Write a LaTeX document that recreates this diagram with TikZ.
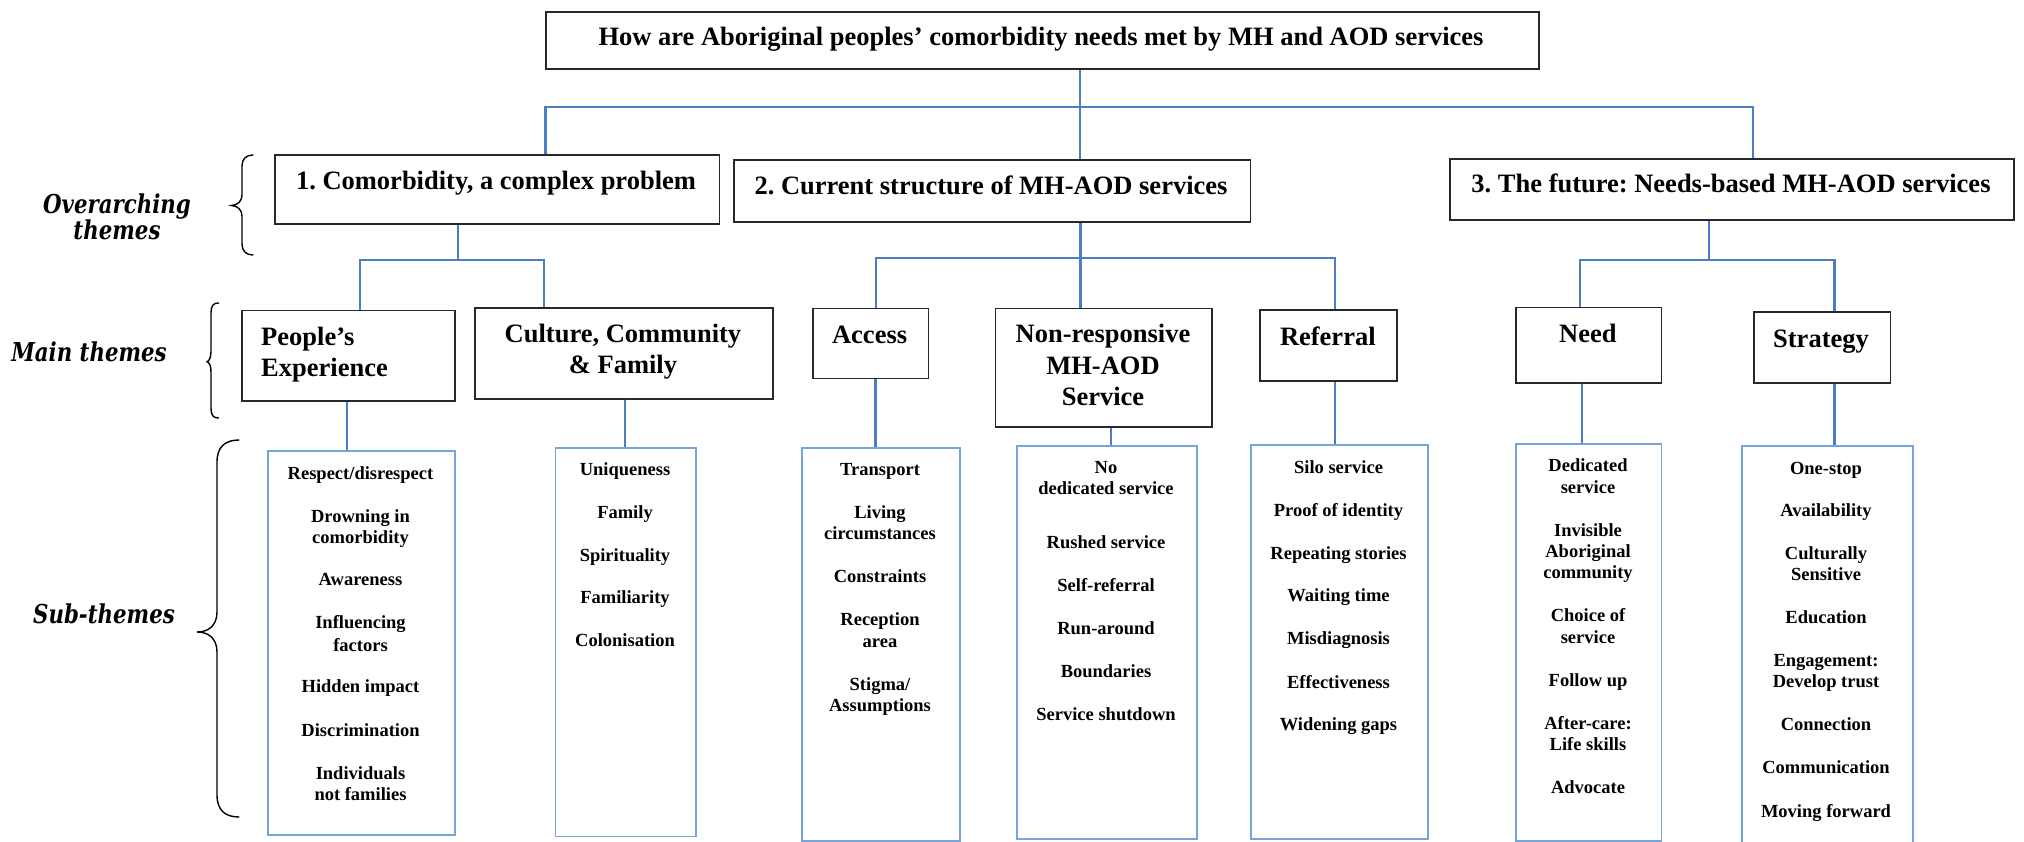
\documentclass[tikz,border=0pt]{standalone}
\usepackage{fontspec}
\setmainfont{Liberation Serif}
\newfontfamily\sidefont{DejaVu Serif}[FakeStretch=0.82]
\frenchspacing

\definecolor{linkblue}{RGB}{74,126,193}
\definecolor{subblue}{RGB}{120,164,222}
\definecolor{boxgray}{RGB}{40,40,40}

\tikzset{
  hbox/.style={draw=boxgray, line width=1.6pt, inner sep=0pt, anchor=north west},
  sbox/.style={draw=subblue, line width=1.8pt, inner sep=0pt, anchor=north west},
  conn/.style={draw=linkblue, line width=2.2pt},
  headtxt/.style={inner sep=0pt, anchor=base, font=\fontsize{26.5}{30.5}\selectfont\bfseries},
  subtxt/.style={inner sep=0pt, anchor=base, font=\fontsize{18.5}{21.3}\selectfont\bfseries},
  sidetxt/.style={inner sep=0pt, anchor=base, font=\sidefont\fontsize{26}{27}\selectfont\bfseries\itshape},
  bracepath/.style={draw=black, line width=1.4pt, line cap=round},
}

% box from its top-left to its bottom-right corner: style, name, x1, y1, x2, y2
\newcommand{\panel}[6]{%
  \node[#1, minimum width={(#5)-(#3)}, minimum height={(#6)-(#4)}] (#2) at (#3,#4) {};}
% one text line per entry, entry = text/centre-y
\newcommand{\sublist}[3]{%
  \foreach \t/\y [count=\i] in {#3} \node[subtxt] (#1-\i) at (#2,{\y+6.5}) {\t};}

\begin{document}
\begin{tikzpicture}[x=1pt, y=-1pt]
\useasboundingbox (0,0) rectangle (2024,842);
\clip (0,0) rectangle (2024,842);

% ---------- question ----------
\panel{hbox}{title}{545}{11}{1538}{68}
\node[headtxt] (titleT) at (1041,46) {How are Aboriginal peoples’ comorbidity needs met by MH and AOD services};

% ---------- overarching themes ----------
\panel{hbox}{ov1}{274}{154}{718.5}{223}
\panel{hbox}{ov2}{733}{159}{1249.6}{221}
\panel{hbox}{ov3}{1449}{158}{2013}{219}
\node[headtxt] (ov1T) at (496,190) {1. Comorbidity, a complex problem};
\node[headtxt] (ov2T) at (991,195) {2. Current structure of MH-AOD services};
\node[headtxt] (ov3T) at (1731,193) {3. The future: Needs-based MH-AOD services};

% ---------- main themes ----------
\panel{hbox}{pe}{241}{309.7}{454}{400}
\panel{hbox}{cu}{474}{307}{772}{398}
\panel{hbox}{ac}{812}{307.6}{927.7}{377.8}
\panel{hbox}{nr}{994.6}{307.6}{1211}{426}
\panel{hbox}{rf}{1259}{309}{1396}{380}
\panel{hbox}{nd}{1515.4}{306.9}{1660.6}{382}
\panel{hbox}{st}{1753}{311}{1889.5}{382}

\node[headtxt, anchor=base west] (peT1) at (261,345.6) {People’s};
\node[headtxt, anchor=base west] (peT2) at (261,376) {Experience};
\node[headtxt] (cuT1) at (623,342.7) {Culture, Community};
\node[headtxt] (cuT2) at (623,373) {\& Family};
\node[headtxt] (acT) at (869.6,343.8) {Access};
\node[headtxt] (nrT1) at (1103,342.7) {Non-responsive};
\node[headtxt] (nrT2) at (1103,374) {MH-AOD};
\node[headtxt] (nrT3) at (1103,405.4) {Service};
\node[headtxt] (rfT) at (1327.8,345) {Referral};
\node[headtxt] (ndT) at (1587.8,342.7) {Need};
\node[headtxt] (stT) at (1821,347.4) {Strategy};

% ---------- sub-themes ----------
\panel{sbox}{peS}{267}{450}{454}{833.7}
\panel{sbox}{cuS}{554.5}{446.7}{695}{835.5}
\panel{sbox}{acS}{801}{446.7}{959}{840}
\panel{sbox}{nrS}{1016}{445}{1196.4}{838.4}
\panel{sbox}{rfS}{1250}{444}{1427}{838}
\panel{sbox}{ndS}{1515.4}{443}{1660.6}{840}
\panel{sbox}{stS}{1741}{445}{1911.7}{848}

\sublist{peL}{360.5}{{Respect/disrespect}/472.5, Drowning in/515.5, comorbidity/536.6,
  Awareness/579.3, Influencing/622.3, factors/644.5, Hidden impact/686,
  Discrimination/730, Individuals/773, not families/794}
\sublist{cuL}{625}{Uniqueness/469, Family/512, Spirituality/555, Familiarity/597, Colonisation/640}
\sublist{acL}{880}{Transport/468.9, Living/512.3, circumstances/533, Constraints/576,
  Reception/619, area/641, {Stigma/}/684.3, Assumptions/705}
\sublist{nrL}{1106}{No/466.7, dedicated service/488.2, Rushed service/542, Self-referral/585,
  Run-around/628, Boundaries/671, Service shutdown/714}
\sublist{rfL}{1338.5}{Silo service/466.7, Proof of identity/509.7, Repeating stories/552.8,
  Waiting time/595, Misdiagnosis/638, Effectiveness/681.8, Widening gaps/723.7}
\sublist{ndL}{1588}{Dedicated/465.3, service/486.8, Invisible/529.8, Aboriginal/551.3,
  community/572, Choice of/615, service/637.3, Follow up/679.6, After-care:/723.3,
  Life skills/744, Advocate/787}
\sublist{stL}{1826}{One-stop/467.5, Availability/509.7, Culturally/553, Sensitive/574,
  Education/617, Engagement:/660, Develop trust/681.4, Connection/724.4,
  Communication/766.7, Moving forward/810.5}

% ---------- connectors ----------
\coordinate (j0) at (1080,107);
\coordinate (b1) at (545.5,107);
\coordinate (b3) at (1753,107);
\draw[conn] (title.south -| j0) -- (ov2.north -| j0);
\draw[conn] (ov1.north -| b1) -- (b1) -- (b3) -- (ov3.north -| b3);

\coordinate (k1) at (457.7,260);
\coordinate (m1) at (359.6,260);
\coordinate (m2) at (543.6,260);
\draw[conn] (ov1.south -| k1) -- (k1);
\draw[conn] (pe.north -| m1) -- (m1) -- (m2) -- (cu.north -| m2);

\coordinate (k2) at (1080.5,258);
\coordinate (m3) at (876,258);
\coordinate (m5) at (1335,258);
\draw[conn] (ov2.south -| k2) -- (nr.north -| k2);
\draw[conn] (ac.north -| m3) -- (m3) -- (m5) -- (rf.north -| m5);

\coordinate (k3) at (1708.6,260);
\coordinate (m6) at (1580,260);
\coordinate (m7) at (1834.5,260);
\draw[conn] (ov3.south -| k3) -- (k3);
\draw[conn] (nd.north -| m6) -- (m6) -- (m7) -- (st.north -| m7);

\coordinate (s1) at (347,0);
\coordinate (s2) at (625,0);
\coordinate (s3) at (875.4,0);
\coordinate (s4) at (1110.7,0);
\coordinate (s5) at (1334.8,0);
\coordinate (s6) at (1582,0);
\coordinate (s7) at (1834.5,0);
\draw[conn] (pe.south -| s1) -- (peS.north -| s1);
\draw[conn] (cu.south -| s2) -- (cuS.north -| s2);
\draw[conn] (ac.south -| s3) -- (acS.north -| s3);
\draw[conn] (nr.south -| s4) -- (nrS.north -| s4);
\draw[conn] (rf.south -| s5) -- (rfS.north -| s5);
\draw[conn] (nd.south -| s6) -- (ndS.north -| s6);
\draw[conn] (st.south -| s7) -- (stS.north -| s7);

% ---------- level labels and braces ----------
\node[sidetxt] (sideO1) at (117,214) {Overarching};
\node[sidetxt] (sideO2) at (117,240) {themes};
\node[sidetxt] (sideM) at (89,361.7) {Main themes};
\node[sidetxt] (sideS) at (104,623.3) {Sub-themes};

\draw[bracepath] (253,155) .. controls (246,155) and (242,159) .. (242,166)
  -- (242,195) .. controls (242,201) and (238,205) .. (231.5,205.5)
  .. controls (238,206) and (242,210) .. (242,216)
  -- (242,244) .. controls (242,251) and (246,255) .. (253,255);
\draw[bracepath] (218.5,303) .. controls (213,303) and (211,306) .. (211,313)
  -- (211,351) .. controls (211,357) and (209.5,361) .. (207,361.7)
  .. controls (209.5,362.5) and (211,366) .. (211,372)
  -- (211,408) .. controls (211,415) and (213,418) .. (218.5,418);
\draw[bracepath] (239,440) .. controls (225,440) and (217,447) .. (217,462)
  -- (217,612) .. controls (217,626) and (208,632) .. (197,632)
  .. controls (208,632) and (217,638) .. (217,652)
  -- (217,795) .. controls (217,810) and (225,817) .. (239,817);
\end{tikzpicture}
\end{document}
